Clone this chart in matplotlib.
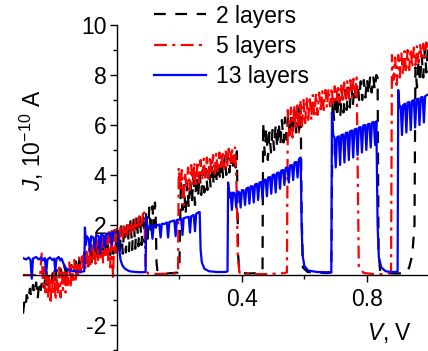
import numpy as np
import matplotlib
matplotlib.use("Agg")
import matplotlib.pyplot as plt
from matplotlib.lines import Line2D

plt.rcParams['font.family'] = ['Liberation Sans', 'DejaVu Sans']
plt.rcParams['mathtext.fontset'] = 'custom'
plt.rcParams['mathtext.rm'] = 'Liberation Sans'
plt.rcParams['mathtext.it'] = 'Liberation Sans:italic'
plt.rcParams['axes.unicode_minus'] = False

# 2 layers (black dashed)
v_2 = [-0.300, -0.296, -0.292, -0.288, -0.283, -0.278, -0.273, -0.268, -0.263, -0.258,
       -0.253, -0.248, -0.243, -0.238, -0.233, -0.228, -0.222, -0.216, -0.210, -0.204,
       -0.198, -0.192, -0.186, -0.180, -0.174, -0.168, -0.162, -0.156, -0.150, -0.144,
       -0.138, -0.132, -0.126, -0.120, -0.114, -0.108, -0.102, -0.096, -0.091, -0.086,
       -0.081, -0.076, -0.071, -0.066, -0.061, -0.056, -0.051, -0.046, -0.041, -0.036,
       -0.031, -0.026, -0.021, -0.016, -0.011, -0.006, -0.001, 0.004, 0.009, 0.014,
       0.019, 0.024, 0.029, 0.034, 0.039, 0.044, 0.049, 0.054, 0.059, 0.064,
       0.069, 0.074, 0.079, 0.084, 0.089, 0.094, 0.099, 0.104, 0.109, 0.114,
       0.118, 0.122, 0.124, 0.127, 0.130, 0.140, 0.160, 0.180, 0.195, 0.200,
       0.205, 0.210, 0.215, 0.220, 0.225, 0.230, 0.235, 0.240, 0.245, 0.250,
       0.255, 0.260, 0.265, 0.270, 0.275, 0.280, 0.285, 0.290, 0.295, 0.300,
       0.305, 0.310, 0.315, 0.320, 0.325, 0.330, 0.335, 0.340, 0.345, 0.350,
       0.355, 0.360, 0.365, 0.370, 0.375, 0.380, 0.384, 0.388, 0.392, 0.400,
       0.420, 0.440, 0.460, 0.466, 0.468, 0.473, 0.478, 0.483, 0.488, 0.493,
       0.498, 0.503, 0.508, 0.513, 0.518, 0.523, 0.528, 0.533, 0.538, 0.543,
       0.548, 0.553, 0.558, 0.563, 0.568, 0.573, 0.578, 0.583, 0.588, 0.591,
       0.595, 0.610, 0.640, 0.670, 0.686, 0.690, 0.695, 0.700, 0.705, 0.710,
       0.715, 0.720, 0.725, 0.730, 0.735, 0.740, 0.745, 0.750, 0.755, 0.760,
       0.765, 0.770, 0.775, 0.780, 0.785, 0.790, 0.795, 0.800, 0.805, 0.810,
       0.815, 0.820, 0.825, 0.830, 0.834, 0.837, 0.842, 0.860, 0.890, 0.915,
       0.925, 0.935, 0.945, 0.952, 0.955, 0.960, 0.965, 0.970, 0.975, 0.980,
       0.985, 0.990, 0.995]
j_2 = [-1.55, -1.10, -1.30, -0.80, -1.05, -0.55, -0.90, -0.40, -0.75, -0.30,
       -0.95, -0.25, -0.60, -0.15, -0.50, -0.05, -0.40, 0.05, -0.30, 0.15,
       -0.20, 0.20, -0.10, 0.25, 0.00, 0.35, 0.05, 0.40, 0.10, 0.45,
       0.15, 0.55, 0.20, 0.60, 0.25, 0.75, 0.30, 0.95, 0.35, 1.10,
       0.45, 1.25, 0.50, 1.35, 0.55, 1.45, 0.60, 1.55, 0.70, 1.60,
       0.75, 1.70, 0.80, 1.75, 0.85, 1.80, 0.90, 1.85, 0.80, 1.95,
       0.85, 2.05, 0.90, 2.15, 0.95, 2.25, 1.00, 2.30, 1.05, 2.40,
       1.15, 2.45, 1.20, 2.55, 1.30, 2.60, 1.45, 2.70, 1.60, 2.75,
       1.90, 2.90, 2.60, 0.50, 0.15, 0.08, 0.06, 0.08, 0.10, 0.20,
       3.80, 2.60, 3.60, 2.40, 3.70, 2.70, 3.80, 2.90, 3.90, 2.80,
       4.00, 3.10, 4.10, 3.20, 4.20, 3.30, 4.25, 3.40, 4.35, 3.50,
       4.45, 3.60, 4.50, 3.70, 4.60, 3.80, 4.65, 3.90, 4.75, 4.00,
       4.80, 4.10, 4.85, 4.20, 4.90, 4.30, 4.95, 0.80, 0.15, 0.08,
       0.06, 0.07, 0.08, 0.15, 6.10, 4.80, 5.90, 4.60, 5.70, 4.90,
       5.80, 5.00, 6.00, 5.10, 6.10, 5.20, 6.20, 5.30, 6.30, 5.40,
       6.40, 5.50, 6.50, 5.60, 6.60, 5.70, 6.70, 5.80, 6.80, 2.50,
       0.30, 0.12, 0.10, 0.08, 0.10, 7.00, 6.20, 7.20, 6.30, 7.30,
       6.40, 7.35, 6.50, 7.40, 6.60, 7.50, 6.70, 7.55, 6.80, 7.60,
       6.90, 7.70, 7.00, 7.75, 7.00, 7.80, 7.10, 7.85, 7.20, 7.90,
       7.30, 7.95, 7.40, 8.00, 7.90, 1.00, 0.15, 0.08, 0.06, 0.07,
       0.08, 0.30, 0.80, 2.00, 8.30, 7.50, 8.60, 7.70, 8.80, 7.90,
       9.00, 8.10, 9.10]

# 5 layers (red dash-dot)
v_5 = [-0.300, -0.245, -0.240, -0.236, -0.232, -0.228, -0.224, -0.220, -0.216, -0.212,
       -0.208, -0.204, -0.200, -0.196, -0.192, -0.188, -0.184, -0.180, -0.176, -0.172,
       -0.168, -0.164, -0.160, -0.156, -0.152, -0.148, -0.144, -0.140, -0.136, -0.132,
       -0.128, -0.124, -0.120, -0.116, -0.112, -0.108, -0.104, -0.100, -0.096, -0.092,
       -0.088, -0.084, -0.080, -0.076, -0.072, -0.068, -0.064, -0.060, -0.056, -0.052,
       -0.048, -0.044, -0.040, -0.036, -0.032, -0.028, -0.024, -0.020, -0.016, -0.012,
       -0.008, -0.004, 0.000, 0.006, 0.012, 0.018, 0.024, 0.030, 0.036, 0.042,
       0.048, 0.054, 0.060, 0.066, 0.072, 0.078, 0.084, 0.088, 0.090, 0.092,
       0.100, 0.130, 0.160, 0.190, 0.196, 0.198, 0.203, 0.208, 0.213, 0.218,
       0.223, 0.228, 0.233, 0.238, 0.243, 0.248, 0.253, 0.258, 0.263, 0.268,
       0.273, 0.278, 0.283, 0.288, 0.293, 0.298, 0.303, 0.308, 0.313, 0.318,
       0.323, 0.328, 0.333, 0.338, 0.343, 0.348, 0.353, 0.358, 0.363, 0.368,
       0.373, 0.378, 0.383, 0.387, 0.392, 0.420, 0.460, 0.500, 0.530, 0.544,
       0.547, 0.552, 0.557, 0.562, 0.567, 0.572, 0.577, 0.582, 0.587, 0.592,
       0.597, 0.602, 0.607, 0.612, 0.617, 0.622, 0.627, 0.632, 0.637, 0.642,
       0.647, 0.652, 0.657, 0.662, 0.667, 0.672, 0.677, 0.682, 0.687, 0.692,
       0.697, 0.702, 0.707, 0.712, 0.717, 0.722, 0.727, 0.732, 0.737, 0.742,
       0.747, 0.752, 0.757, 0.762, 0.767, 0.771, 0.774, 0.790, 0.820, 0.850,
       0.870, 0.877, 0.880, 0.885, 0.890, 0.895, 0.900, 0.905, 0.910, 0.915,
       0.920, 0.925, 0.930, 0.935, 0.940, 0.945, 0.950, 0.955, 0.960, 0.965,
       0.970, 0.975, 0.980, 0.985, 0.990, 0.995]
j_5 = [0.00, 0.00, 0.90, -0.40, 0.30, -0.70, 0.10, -0.90, 0.00, -1.15,
       -0.10, -0.80, 0.20, -1.00, -0.05, -0.70, 0.30, -0.90, 0.10, -0.60,
       0.40, -0.70, 0.20, -0.40, 0.50, -0.50, 0.35, -0.20, 0.60, -0.30,
       0.50, 0.00, 0.70, 0.10, 0.80, 0.20, 0.90, 0.25, 1.00, 0.35,
       1.10, 0.40, 1.20, 0.50, 1.30, 0.45, 1.40, 0.60, 1.50, 0.70,
       1.55, 0.50, 1.60, 0.80, 1.65, 0.60, 1.70, 0.30, 1.75, -0.20,
       1.80, 0.90, 1.85, 1.20, 1.90, 1.40, 2.00, 1.50, 2.10, 1.60,
       2.15, 1.70, 2.25, 1.80, 2.35, 1.90, 2.45, 2.50, 1.50, 0.20,
       0.06, 0.04, 0.05, 0.06, 0.15, 4.30, 3.40, 4.20, 2.80, 4.10,
       3.50, 4.30, 3.40, 4.40, 3.60, 4.50, 3.50, 4.55, 3.70, 4.60,
       3.80, 4.65, 3.90, 4.70, 3.85, 4.75, 4.00, 4.80, 4.05, 4.85,
       4.10, 4.90, 4.20, 4.95, 4.25, 5.00, 4.30, 5.05, 4.40, 5.10,
       4.50, 5.10, 3.50, 0.80, 0.10, 0.05, 0.03, 0.05, 0.07, 0.10,
       6.60, 5.60, 6.70, 5.50, 6.80, 5.80, 6.90, 5.70, 7.00, 5.90,
       7.00, 6.00, 7.10, 6.10, 7.15, 6.20, 7.20, 6.30, 7.25, 6.40,
       7.30, 6.50, 7.35, 6.60, 7.40, 6.70, 7.45, 6.75, 7.50, 6.80,
       7.55, 6.85, 7.60, 6.90, 7.65, 6.95, 7.70, 7.00, 7.75, 7.05,
       7.80, 7.10, 7.85, 7.20, 7.90, 3.50, 0.30, 0.08, 0.04, 0.03,
       0.06, 0.15, 8.80, 7.80, 8.70, 7.60, 8.80, 7.90, 8.90, 8.00,
       8.95, 8.10, 9.00, 8.20, 9.05, 8.30, 9.10, 8.40, 9.15, 8.50,
       9.20, 8.60, 9.25, 8.70, 9.30, 8.90]

# 13 layers (blue solid)
v_13 = [-0.300, -0.290, -0.282, -0.276, -0.272, -0.268, -0.258, -0.250, -0.243, -0.236,
        -0.230, -0.226, -0.222, -0.214, -0.206, -0.200, -0.197, -0.193, -0.186, -0.181,
        -0.177, -0.172, -0.166, -0.158, -0.145, -0.130, -0.115, -0.104, -0.102, -0.099,
        -0.096, -0.090, -0.086, -0.082, -0.075, -0.070, -0.066, -0.058, -0.054, -0.050,
        -0.042, -0.038, -0.034, -0.026, -0.020, -0.016, -0.012, -0.004, 0.004, 0.008,
        0.012, 0.018, 0.026, 0.040, 0.060, 0.080, 0.092, 0.094, 0.098, 0.106,
        0.110, 0.114, 0.118, 0.128, 0.136, 0.140, 0.144, 0.152, 0.160, 0.164,
        0.168, 0.176, 0.184, 0.188, 0.192, 0.200, 0.206, 0.210, 0.214, 0.222,
        0.230, 0.234, 0.238, 0.246, 0.250, 0.254, 0.260, 0.265, 0.268, 0.272,
        0.280, 0.295, 0.320, 0.345, 0.354, 0.356, 0.360, 0.364, 0.368, 0.372,
        0.378, 0.382, 0.386, 0.392, 0.396, 0.400, 0.406, 0.410, 0.414, 0.420,
        0.424, 0.428, 0.434, 0.438, 0.442, 0.448, 0.452, 0.456, 0.462, 0.466,
        0.470, 0.476, 0.480, 0.484, 0.490, 0.494, 0.498, 0.504, 0.508, 0.512,
        0.518, 0.522, 0.526, 0.532, 0.536, 0.540, 0.546, 0.550, 0.554, 0.560,
        0.564, 0.568, 0.574, 0.578, 0.582, 0.588, 0.591, 0.594, 0.600, 0.612,
        0.640, 0.670, 0.686, 0.688, 0.692, 0.696, 0.700, 0.704, 0.710, 0.714,
        0.718, 0.724, 0.728, 0.732, 0.738, 0.742, 0.746, 0.752, 0.756, 0.760,
        0.766, 0.770, 0.774, 0.780, 0.784, 0.788, 0.794, 0.798, 0.802, 0.808,
        0.812, 0.816, 0.822, 0.826, 0.830, 0.834, 0.838, 0.846, 0.860, 0.880,
        0.898, 0.900, 0.904, 0.908, 0.912, 0.916, 0.922, 0.926, 0.930, 0.936,
        0.940, 0.944, 0.950, 0.954, 0.958, 0.964, 0.968, 0.972, 0.978, 0.982,
        0.986, 0.992, 0.996]
j_13 = [0.68, 0.62, 0.70, 0.60, -0.15, 0.66, 0.72, 0.62, 0.70, 0.58,
        0.68, 0.05, 0.62, 0.70, 0.60, 0.66, 0.15, 0.64, 0.72, 0.58,
        0.66, 0.50, 0.32, 0.22, 0.17, 0.14, 0.13, 0.15, 1.90, 1.20,
        1.55, 1.45, 0.95, 1.55, 1.50, 1.05, 1.60, 1.55, 0.90, 1.62,
        1.58, 1.10, 1.65, 1.62, 1.68, 1.20, 1.70, 1.72, 1.70, 1.00,
        0.60, 0.38, 0.25, 0.15, 0.12, 0.11, 0.12, 2.35, 1.90, 1.95,
        1.98, 1.45, 2.00, 1.98, 2.02, 1.50, 2.05, 2.04, 2.10, 1.50,
        2.12, 2.15, 2.18, 1.55, 2.20, 2.22, 2.25, 1.60, 2.28, 2.30,
        2.33, 1.70, 2.35, 2.40, 1.75, 2.45, 2.50, 2.52, 1.00, 0.50,
        0.25, 0.15, 0.12, 0.12, 0.14, 3.70, 3.10, 3.30, 2.60, 3.30,
        3.25, 2.70, 3.35, 3.30, 2.70, 3.40, 3.38, 2.80, 3.45, 3.50,
        2.85, 3.55, 3.55, 2.90, 3.62, 3.65, 3.00, 3.70, 3.72, 3.05,
        3.80, 3.82, 3.15, 3.90, 3.92, 3.25, 4.00, 4.02, 3.30, 4.08,
        4.10, 3.45, 4.18, 4.20, 3.60, 4.28, 4.30, 3.70, 4.38, 4.40,
        3.80, 4.50, 4.52, 3.90, 4.62, 4.70, 2.00, 0.80, 0.35, 0.18,
        0.12, 0.11, 0.12, 6.50, 5.60, 5.50, 4.30, 5.50, 5.55, 4.40,
        5.60, 5.62, 4.50, 5.68, 5.70, 4.60, 5.75, 5.78, 4.70, 5.82,
        5.85, 4.80, 5.90, 5.92, 4.90, 5.98, 6.00, 5.00, 6.02, 6.05,
        5.10, 6.10, 6.12, 5.20, 6.15, 2.00, 0.70, 0.30, 0.15, 0.12,
        0.13, 7.40, 6.70, 6.75, 5.60, 6.80, 6.85, 5.70, 6.90, 6.92,
        5.80, 6.95, 7.00, 5.90, 7.02, 7.05, 6.00, 7.10, 7.12, 6.10,
        7.15, 7.20, 7.22]

labels = ['2 layers', '5 layers', '13 layers']
colors = ['black', '#ff0000', '#0000ff']
styles = [(0, (5.3, 4.3)), (0, (5.8, 2.4, 1.4, 2.4)), '-']

W, H = 428, 351
fig = plt.figure(figsize=(W / 100, H / 100), dpi=100)
ax = fig.add_axes([23 / W, 0, (W - 23) / W, (H - 25) / H])

for v, j, c, ls in zip([v_2, v_5, v_13], [j_2, j_5, j_13], colors, styles):
    ax.plot(v, j, color=c, linestyle=ls, lw=1.6)

ax.set_xlim(-0.30, 0.9952)
ax.set_ylim(-3.04, 10)

# axes cross at the origin
ax.spines['left'].set_position(('data', 0))
ax.spines['bottom'].set_position(('data', 0))
ax.spines['right'].set_visible(False)
ax.spines['top'].set_visible(False)
for s in ['left', 'bottom']:
    ax.spines[s].set_linewidth(1.0)

ax.set_xticks([0.4, 0.8])
ax.set_xticklabels(['0.4', '0.8'])
ax.set_xticks([0.2, 0.6], minor=True)
ax.set_yticks([-2, 2, 4, 6, 8, 10])
ax.set_yticklabels(['-2', '2', '4', '6', '8', '10'])
ax.set_yticks([-3, -1, 1, 3, 5, 7, 9], minor=True)
ax.tick_params(which='major', length=5, width=1.0, labelsize=16.5, pad=2.5)
ax.tick_params(which='minor', length=3, width=1.0)
ax.tick_params(axis='x', which='major', pad=4)
ax.patch.set_visible(False)

fig.text(32 / W, 1 - 140 / H, r'$J$, 10$^{-10}$ A', rotation=90,
         ha='center', va='center', fontsize=16.5)
fig.text(390 / W, 1 - 333 / H, r'$V$, V', ha='center', va='center', fontsize=16.5)

handles = [Line2D([], [], color=c, linestyle=ls, lw=1.6) for c, ls in zip(colors, styles)]
ax.legend(handles, labels, loc='upper left', bbox_to_anchor=(154 / W, 1 - 4.5 / H),
          bbox_transform=fig.transFigure, frameon=False, fontsize=16.5,
          handlelength=2.26, handletextpad=0.43, labelspacing=0.32,
          borderpad=0, borderaxespad=0)

fig.savefig('out.png', dpi=100)
